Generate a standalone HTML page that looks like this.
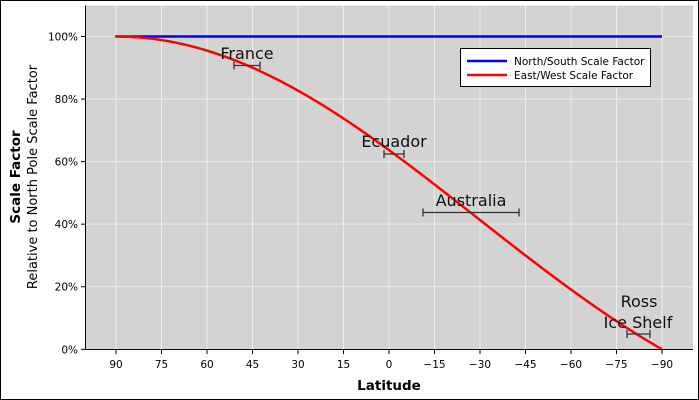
<!DOCTYPE html>
<html><head><style>
html,body{margin:0;padding:0;background:#fff}
svg{display:block;font-family:"DejaVu Sans","Liberation Sans",sans-serif}
</style></head><body>
<svg id="s" width="699" height="400" viewBox="0 0 699 400" xmlns="http://www.w3.org/2000/svg">
<rect x="0.5" y="0.5" width="698" height="399" fill="#fff" stroke="#000"/>
<rect x="85.5" y="5.5" width="607.5" height="344" fill="#d3d3d3"/>
<g id="grid" stroke="#ececec" stroke-width="1"></g>
<g id="ticks" font-size="10.5" fill="#000"></g>
<path d="M115.3 36.5 H662" stroke="#0000ff" stroke-width="2.5" fill="none"/>
<path id="red" stroke="#ff0000" stroke-width="2.5" fill="none"/>
<g stroke="#333" stroke-width="1.3" fill="none">
<path d="M234 65.5H260M234 61.5V69.5M260 61.5V69.5"/>
<path d="M384 154H404M384 150V158M404 150V158"/>
<path d="M423 212.5H519M423 208.5V216.5M519 208.5V216.5"/>
<path d="M627 334H650M627 330V338M650 330V338"/>
</g>
<g font-size="16" fill="#111" text-anchor="middle">
<text x="247" y="59">France</text>
<text x="394" y="147">Ecuador</text>
<text x="471" y="206">Australia</text>
<text x="639" y="307">Ross</text>
<text x="638" y="328">Ice Shelf</text>
</g>
<path d="M85.5 5.5V349.5H693" stroke="#000" stroke-width="1" fill="none"/>
<rect x="460.5" y="48.5" width="190" height="38" fill="#fff" stroke="#000"/>
<path d="M467 61H507" stroke="#0000ff" stroke-width="2.5"/>
<path d="M467 75H507" stroke="#ff0000" stroke-width="2.5"/>
<g font-size="10.5" fill="#000">
<text x="514" y="65">North/South Scale Factor</text>
<text x="514" y="79">East/West Scale Factor</text>
</g>
<text x="389" y="390" font-size="13.5" font-weight="bold" text-anchor="middle">Latitude</text>
<text transform="translate(20 177) rotate(-90)" font-size="13.5" font-weight="bold" text-anchor="middle">Scale Factor</text>
<text transform="translate(37 177) rotate(-90)" font-size="13" text-anchor="middle">Relative to North Pole Scale Factor</text>
</svg>
<script>
var ns="http://www.w3.org/2000/svg",g=document.getElementById("grid"),t=document.getElementById("ticks");
function xl(l){return 389-l*(273/90);}
function yv(p){return 349.3-p*3.128;}
function el(p,n,a){var e=document.createElementNS(ns,n);for(var k in a)e.setAttribute(k,a[k]);p.appendChild(e);return e;}
var labs=["90","75","60","45","30","15","0","\u221215","\u221230","\u221245","\u221260","\u221275","\u221290"];
for(var i=0;i<13;i++){var l=90-15*i,x=xl(l);
el(g,"line",{x1:x,x2:x,y1:5.5,y2:349});
el(t,"line",{x1:x,x2:x,y1:349.5,y2:354,stroke:"#000"});
var tx=el(t,"text",{x:x,y:368,"text-anchor":"middle"});tx.textContent=labs[i];}
for(var p=0;p<=100;p+=20){var y=yv(p);
el(g,"line",{x1:85.5,x2:693,y1:y,y2:y});
el(t,"line",{x1:81,x2:85.5,y1:y,y2:y,stroke:"#000"});
var ty=el(t,"text",{x:78,y:y+4,"text-anchor":"end"});ty.textContent=p+"%";}
var d="";for(var l=90;l>=-90;l-=1){var c=(90-l)*Math.PI/180,f=c==0?1:Math.sin(c)/c;
d+=(l==90?"M":"L")+xl(l).toFixed(2)+" "+yv(f*100).toFixed(2);}
document.getElementById("red").setAttribute("d",d);
</script>
</body></html>
